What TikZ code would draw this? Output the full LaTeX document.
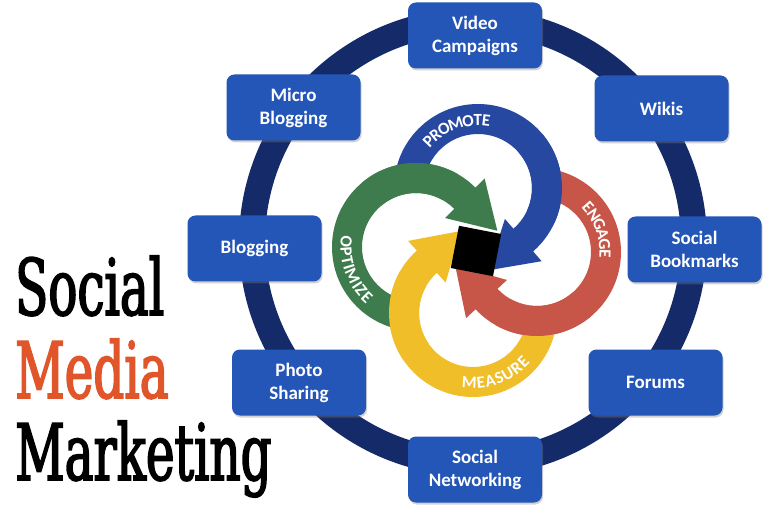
\documentclass[tikz,border=0pt]{standalone}
\usepackage{fontspec}
\setmainfont{Carlito}
\newfontfamily\titlefont[FakeStretch=0.62,FakeBold=2]{DejaVu Serif}
\usetikzlibrary{calc,shadows}
\definecolor{boxblue}{RGB}{36,86,184}
\definecolor{ringnavy}{RGB}{20,42,105}
\definecolor{arrblue}{RGB}{38,72,160}
\definecolor{arrgreen}{RGB}{62,124,78}
\definecolor{arrred}{RGB}{200,86,72}
\definecolor{arryellow}{RGB}{240,190,40}
\definecolor{mediaorange}{RGB}{224,86,42}
\newcommand{\pwarrow}[4]{%
  \fill[#4] ($(#1)+(#2:84)$) arc[start angle=#2, end angle=#3, radius=84]
    -- ($(#1)+(#3:97)$) -- ($(#1)+(#3:69)+(#3-90:46)$) -- ($(#1)+(#3:41)$)
    -- ($(#1)+(#3:54)$) arc[start angle=#3, end angle=#2, radius=54] -- cycle;}
\newcommand{\pwband}[4]{%
  \fill[#4] ($(#1)+(#2:84)$) arc[start angle=#2, end angle=#3, radius=84]
    -- ($(#1)+(#3:54)$) arc[start angle=#3, end angle=#2, radius=54] -- cycle;}
\tikzset{
  sbox/.style={fill=boxblue, rounded corners=8pt, minimum width=134pt, minimum height=66pt,
    text=white, font=\bfseries\fontsize{19}{23}\selectfont, align=center, inner sep=0pt,
    drop shadow={opacity=0.35, shadow xshift=1pt, shadow yshift=-2pt}},
  title/.style={anchor=base west, inner sep=0pt, font=\titlefont\fontsize{78}{78}\selectfont},
  arcletter/.style={inner sep=0pt, text=white, font=\bfseries\fontsize{17}{17}\selectfont}
}
\begin{document}
\begin{tikzpicture}[x=1pt,y=1pt]
\useasboundingbox (0,0) rectangle (781,517);
\fill[white] (0,0) rectangle (781,517);
% ring
\coordinate (ringc) at (473,275);
\draw[ringnavy, line width=26pt] (ringc) circle (221);
% pinwheel centres
\coordinate (B) at (478,329);
\coordinate (R) at (537,265);
\coordinate (Y) at (473,204);
\coordinate (G) at (416,270);
\pwarrow{B}{180}{-49}{arrblue}
\pwarrow{R}{90}{-137}{arrred}
\pwarrow{Y}{0}{-228}{arryellow}
\pwarrow{G}{-90}{-315}{arrgreen}
% overlaps
\pwband{G}{130}{60}{arrgreen}
\pwband{B}{40}{-25}{arrblue}
\pwband{R}{-50}{-120}{arrred}
\pwband{Y}{215}{150}{arryellow}
% arc labels (letter by letter)
\foreach \ch/\off [count=\k] in {P/-26.4,R/-18.7,O/-10.1,M/0.8,O/11.6,T/19.8,E/26.8}{
  \pgfmathsetmacro\ang{110-(\off)}
  \node[arcletter, rotate=\ang-90] (pm\k) at ($(B)+(\ang:68)$) {\ch};}
\foreach \ch/\off [count=\k] in {E/-21.3,N/-13.2,G/-4.1,A/4.7,G/13.4,E/21.3}{
  \pgfmathsetmacro\ang{20-(\off)}
  \node[arcletter, rotate=\ang-90] (en\k) at ($(R)+(\ang:68)$) {\ch};}
\foreach \ch/\off [count=\k] in {M/-23.1,E/-13.5,A/-5.75,S/1.86,U/9.8,R/18.4,E/25.8}{
  \pgfmathsetmacro\ang{-70+(\off)}
  \node[arcletter, rotate=\ang+90] (me\k) at ($(Y)+(\ang:70)$) {\ch};}
\foreach \ch/\off [count=\k] in {O/-24.3,P/-15.9,T/-8.65,I/-3.25,M/4.8,I/12.9,Z/18.4,E/25.6}{
  \pgfmathsetmacro\ang{200+(\off)}
  \node[arcletter, rotate=\ang+90] (op\k) at ($(G)+(\ang:70)$) {\ch};}
% centre square
\node[fill=black, minimum size=43pt, rotate=-11, inner sep=0pt] (sq) at (476,266) {};
% boxes
\node[sbox] (vc) at (475,481.5) {Video\\Campaigns};
\node[sbox] (mb) at (293.5,409.5) {Micro\\Blogging};
\node[sbox] (wk) at (661.5,408.5) {Wikis};
\node[sbox] (bl) at (254.5,268.5) {Blogging};
\node[sbox] (sbk) at (694.5,267.5) {Social\\Bookmarks};
\node[sbox] (ps) at (299,134.5) {Photo\\Sharing};
\node[sbox] (fo) at (655.5,134.5) {Forums};
\node[sbox] (sn) at (475,47.5) {Social\\Networking};
% title
\node[title] (t1) at (15,202) {Social};
\node[title, text=mediaorange] (t2) at (15,119) {Media};
\node[title] (t3) at (15,37) {Marketing};
\end{tikzpicture}
\end{document}
